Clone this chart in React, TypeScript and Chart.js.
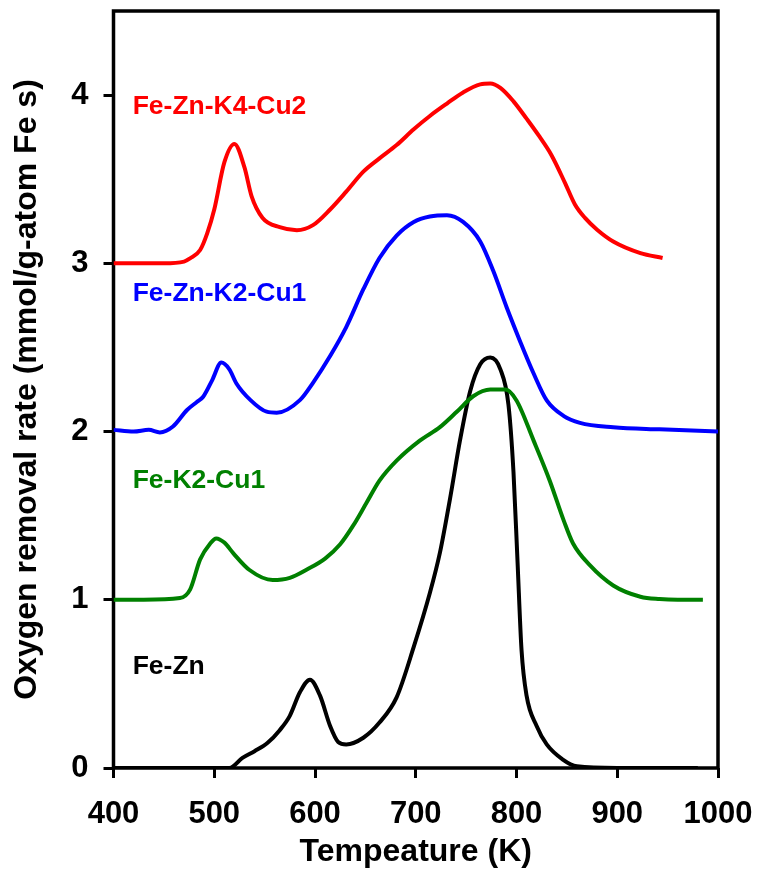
import React, { useEffect, useRef } from "react";
import { Chart, registerables } from "chart.js";

Chart.register(...registerables);

// ---- Data ----
const seriesNames = ["Fe-Zn-K4-Cu2", "Fe-Zn-K2-Cu1", "Fe-K2-Cu1", "Fe-Zn"];

const redT = [400, 450, 470, 476, 486, 493, 500, 510, 520, 530, 537, 548, 565, 582, 598, 615, 631, 648, 664, 681, 698, 714, 731, 747, 764, 774, 784, 797, 810, 822, 835, 848, 858, 868, 880, 896, 923, 945];
const redV = [3.0, 3.0, 3.01, 3.03, 3.079, 3.178, 3.32, 3.6, 3.71, 3.57, 3.4, 3.27, 3.215, 3.197, 3.227, 3.32, 3.426, 3.545, 3.624, 3.703, 3.797, 3.876, 3.95, 4.016, 4.064, 4.069, 4.043, 3.963, 3.86, 3.76, 3.64, 3.48, 3.35, 3.27, 3.2, 3.13, 3.061, 3.032];

const blueT = [400, 420, 435, 446, 459, 473, 483, 489, 498, 507, 515, 522, 536, 552, 562, 585, 598, 615, 631, 648, 664, 681, 698, 714, 731, 747, 764, 777, 790, 804, 817, 830, 847, 863, 896, 942, 1000];
const blueV = [2.01, 2.0, 2.01, 1.995, 2.03, 2.128, 2.177, 2.207, 2.306, 2.41, 2.37, 2.286, 2.187, 2.118, 2.112, 2.187, 2.29, 2.449, 2.621, 2.846, 3.032, 3.165, 3.246, 3.278, 3.286, 3.246, 3.13, 2.954, 2.742, 2.53, 2.345, 2.185, 2.092, 2.052, 2.026, 2.013, 2.0];

const greenT = [400, 430, 466, 476, 486, 496, 502, 510, 519, 535, 558, 575, 592, 610, 625, 638, 651, 664, 681, 704, 724, 741, 757, 774, 789, 800, 817, 833, 847, 856, 873, 896, 923, 942, 960, 985];
const greenV = [1.0, 1.0, 1.01, 1.06, 1.24, 1.335, 1.365, 1.34, 1.276, 1.177, 1.117, 1.13, 1.18, 1.245, 1.33, 1.442, 1.575, 1.708, 1.827, 1.946, 2.026, 2.119, 2.21, 2.25, 2.25, 2.185, 1.946, 1.708, 1.469, 1.336, 1.204, 1.085, 1.018, 1.004, 1.0, 1.0];

const blackT = [400, 450, 500, 515, 528, 540, 553, 565, 575, 585, 595, 605, 615, 623, 631, 648, 664, 681, 698, 714, 724, 734, 744, 754, 764, 774, 784, 792, 797, 801, 805, 810, 820, 830, 846, 860, 900, 950, 980];
const blackV = [0, 0, 0, 0, 0.06, 0.1, 0.15, 0.225, 0.31, 0.45, 0.525, 0.43, 0.25, 0.155, 0.14, 0.18, 0.27, 0.42, 0.72, 1.04, 1.28, 1.6, 1.95, 2.24, 2.4, 2.44, 2.37, 2.16, 1.76, 1.23, 0.7, 0.43, 0.25, 0.14, 0.05, 0.01, 0, 0, 0];

const xTicks = [400, 500, 600, 700, 800, 900, 1000];
const yTicks = [0, 1, 2, 3, 4];

// ---- Styling / layout ----
const colors = ["#ff0000", "#0000ff", "#008000", "#000000"];
const labelPos = [
  { x: 419, y: 3.93 },
  { x: 419, y: 2.82 },
  { x: 419, y: 1.71 },
  { x: 419, y: 0.6 },
];
const FONT = "'Liberation Sans', Arial, Helvetica, sans-serif";

const zip = (t: number[], v: number[]) => t.map((x, i) => ({ x, y: v[i] }));

export default function App() {
  const ref = useRef<HTMLCanvasElement | null>(null);

  useEffect(() => {
    if (!ref.current) return;
    const series = [
      zip(redT, redV),
      zip(blueT, blueV),
      zip(greenT, greenV),
      zip(blackT, blackV),
    ];

    const framePlugin = {
      id: "frame",
      beforeDatasetsDraw(chart: any) {
        const { ctx, chartArea } = chart;
        ctx.save();
        ctx.strokeStyle = "#000";
        ctx.lineWidth = 3.5;
        ctx.strokeRect(chartArea.left, chartArea.top, chartArea.right - chartArea.left, chartArea.bottom - chartArea.top);
        ctx.restore();
      },
      afterDraw(chart: any) {
        const { ctx, scales } = chart;
        ctx.save();
        ctx.font = `bold 26.5px ${FONT}`;
        ctx.textAlign = "left";
        ctx.textBaseline = "middle";
        seriesNames.forEach((name, i) => {
          ctx.fillStyle = colors[i];
          ctx.fillText(name, scales.x.getPixelForValue(labelPos[i].x), scales.y.getPixelForValue(labelPos[i].y));
        });
        ctx.restore();
      },
    };

    const chart = new Chart(ref.current, {
      type: "line",
      data: {
        datasets: series.map((d, i) => ({
          label: seriesNames[i],
          data: d,
          borderColor: colors[i],
          backgroundColor: colors[i],
          borderWidth: 4,
          pointRadius: 0,
          fill: false,
          cubicInterpolationMode: "monotone" as const,
        })),
      },
      options: {
        responsive: false,
        animation: false,
        devicePixelRatio: 1,
        layout: { padding: { top: 11, right: 39, left: 0, bottom: 0 } },
        plugins: { legend: { display: false }, tooltip: { enabled: false } },
        scales: {
          x: {
            type: "linear",
            min: 400,
            max: 1000,
            afterBuildTicks: (s: any) => {
              s.ticks = xTicks.map((v) => ({ value: v }));
            },
            afterFit: (s: any) => {
              s.height = 111;
              s.paddingLeft = 0;
              s.paddingRight = 0;
            },
            border: { display: false },
            grid: { display: true, drawOnChartArea: false, drawTicks: true, tickLength: 10, tickWidth: 3, tickColor: "#000", color: "#000" },
            ticks: { color: "#000", font: { family: FONT, size: 31, weight: "bold" }, padding: 18, maxRotation: 0, callback: (v: any) => String(v) },
            title: { display: true, text: "Tempeature (K)", color: "#000", font: { family: FONT, size: 32, weight: "bold" }, padding: { top: 0, bottom: 8 } },
          },
          y: {
            type: "linear",
            min: 0,
            max: 4.5,
            afterBuildTicks: (s: any) => {
              s.ticks = yTicks.map((v) => ({ value: v }));
            },
            afterFit: (s: any) => {
              s.width = 113.5;
              s.paddingTop = 0;
              s.paddingBottom = 0;
            },
            border: { display: false },
            grid: { display: true, drawOnChartArea: false, drawTicks: true, tickLength: 10, tickWidth: 3, tickColor: "#000", color: "#000" },
            ticks: { color: "#000", font: { family: FONT, size: 31, weight: "bold" }, padding: 15, callback: (v: any) => String(v) },
            title: { display: true, text: "Oxygen removal rate (mmol/g-atom Fe s)", color: "#000", font: { family: FONT, size: 32, weight: "bold" }, padding: { top: 8, bottom: 0 } },
          },
        },
      },
      plugins: [framePlugin],
    } as any);

    return () => chart.destroy();
  }, []);

  return (
    <div style={{ position: "absolute", left: 0, top: 0, width: 757, height: 879, background: "#fff" }}>
      <canvas ref={ref} width={757} height={879} style={{ display: "block" }} />
    </div>
  );
}
